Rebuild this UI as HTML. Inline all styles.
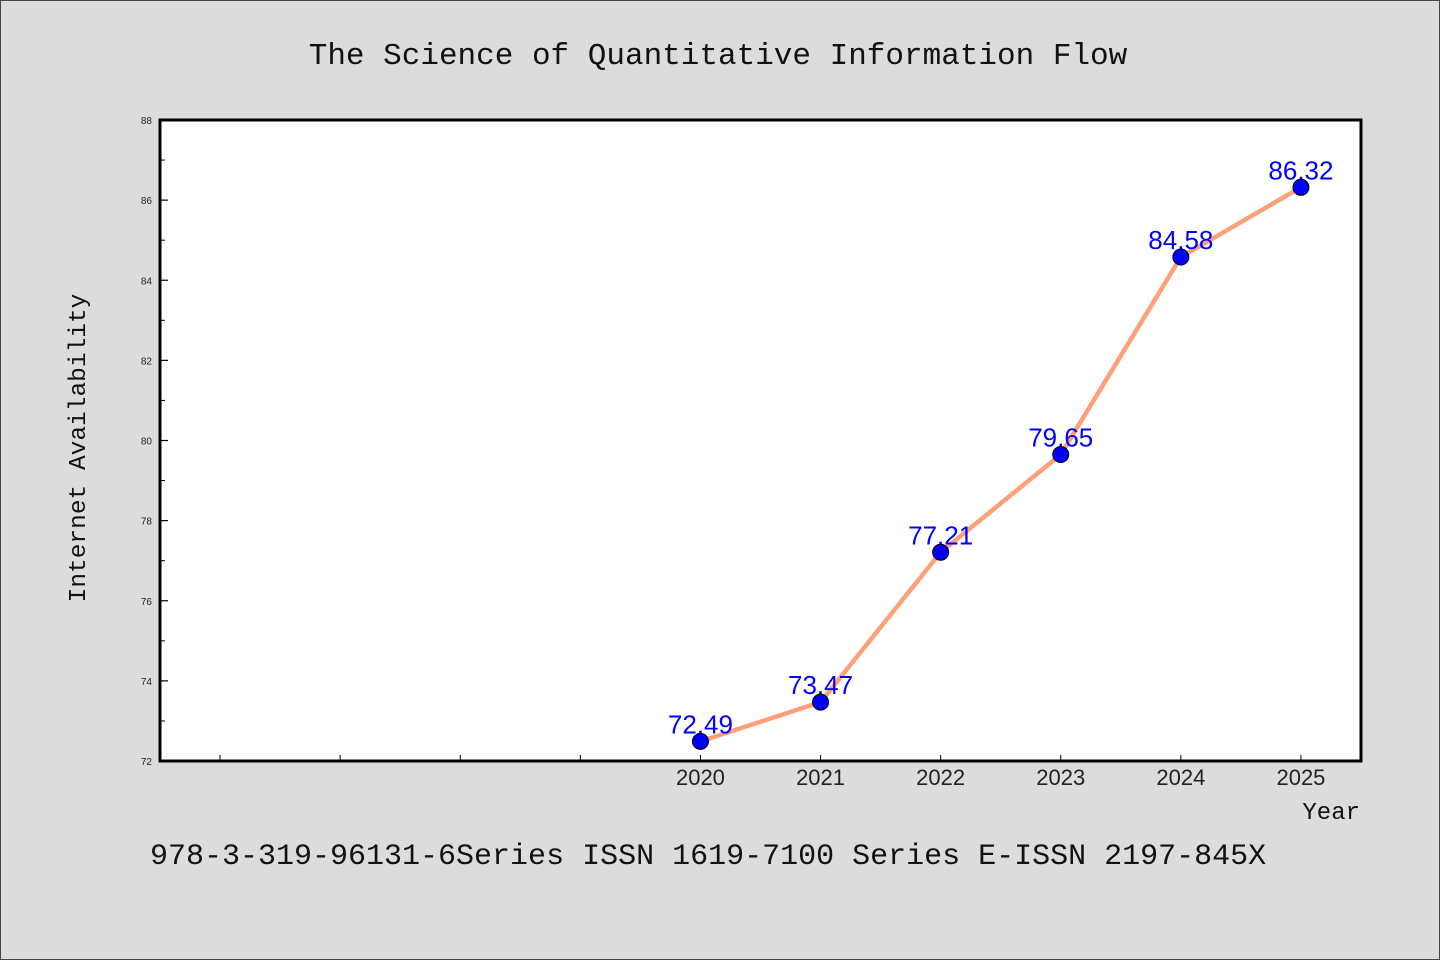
<!DOCTYPE html>
<html><head><meta charset="utf-8"><style>
body{margin:0;background:#dcdcdc;}
svg{display:block}
.mono{font-family:"Liberation Mono","WenQuanYi Zen Hei",monospace;fill:#111}
.sans{font-family:"Liberation Sans",sans-serif}
</style></head><body>
<svg id="chart" width="1440" height="960" viewBox="0 0 1440 960">
<rect x="0.5" y="0.5" width="1439" height="959" fill="#dcdcdc" stroke="#444"/>
<text class="mono" x="718" y="64" font-size="31" text-anchor="middle">The Science of Quantitative Information Flow</text>
<rect x="160" y="120" width="1201" height="641" fill="#fff" stroke="#000" stroke-width="3"/>
<g id="axes"></g>
<g id="series"></g>
<text class="mono" transform="translate(85,448) rotate(-90)" font-size="24.5" text-anchor="middle">Internet Availability</text>
<text class="mono" x="1360" y="819" font-size="24" text-anchor="end">Year</text>
<text class="mono" x="150" y="864" font-size="30">978-3-319-96131-6Series ISSN 1619-7100 Series E-ISSN 2197-845X</text>
</svg>
<script>
const years = [2020, 2021, 2022, 2023, 2024, 2025];
const values = [72.49, 73.47, 77.21, 79.65, 84.58, 86.32];
const labels = ["72.49", "73.47", "77.21", "79.65", "84.58", "86.32"];
const yTicks = [72, 74, 76, 78, 80, 82, 84, 86, 88];
const xMinorTicks = [2016, 2017, 2018, 2019];
const NS = "http://www.w3.org/2000/svg";
const X0 = 160, X1 = 1361, Y0 = 761, Y1 = 120;
const xMin = 2015.5, xMax = 2025.5, yMin = 72, yMax = 88;
const sx = v => X0 + (v - xMin) / (xMax - xMin) * (X1 - X0);
const sy = v => Y0 - (v - yMin) / (yMax - yMin) * (Y0 - Y1);
function mk(tag, attrs, parent) {
  const e = document.createElementNS(NS, tag);
  for (const k in attrs) e.setAttribute(k, attrs[k]);
  parent.appendChild(e);
  return e;
}
const axes = document.getElementById("axes");
yTicks.forEach((t, i) => {
  const y = sy(t);
  const tk = mk("line", {x1: X0, x2: X0 + 8, y1: y, y2: y, stroke: "#000", "stroke-width": 1.2}, axes);
  
  
  const lb = mk("text", {x: X0 - 8, y: y + 4, "font-size": 10, "text-anchor": "end", class: "sans", fill: "#222"}, axes);
  lb.textContent = t;
  
  
  if (i < yTicks.length - 1) {
    const ym = sy(t + 1);
    const mt = mk("line", {x1: X0, x2: X0 + 5, y1: ym, y2: ym, stroke: "#000", "stroke-width": 1}, axes);
    
    
  }
});
xMinorTicks.forEach(t => {
  const x = sx(t);
  const tk = mk("line", {x1: x, x2: x, y1: Y0, y2: Y0 - 6, stroke: "#000", "stroke-width": 1}, axes);
  
  
});
years.forEach(t => {
  const x = sx(t);
  const tk = mk("line", {x1: x, x2: x, y1: Y0, y2: Y0 - 6, stroke: "#000", "stroke-width": 1}, axes);
  
  
  const lb = mk("text", {x: x, y: Y0 + 24, "font-size": 22, "text-anchor": "middle", class: "sans", fill: "#222"}, axes);
  lb.textContent = t;
  
  
});
const series = document.getElementById("series");
const pts = years.map((yr, i) => sx(yr) + "," + sy(values[i])).join(" ");
const line = mk("polyline", {points: pts, fill: "none", stroke: "#ffa07a", "stroke-width": 4.5, "stroke-linejoin": "round"}, series);


years.forEach((yr, i) => {
  const x = sx(yr), y = sy(values[i]);
  const lb = mk("text", {x: x, y: y - 8, "font-size": 26, "text-anchor": "middle", class: "sans", fill: "#0000ff"}, series);
  lb.textContent = labels[i];
  
  
});
years.forEach((yr, i) => {
  const c = mk("circle", {cx: sx(yr), cy: sy(values[i]), r: 8, fill: "#0000ff", stroke: "#000", "stroke-width": 1}, series);
  
  
});
</script>
</body></html>
